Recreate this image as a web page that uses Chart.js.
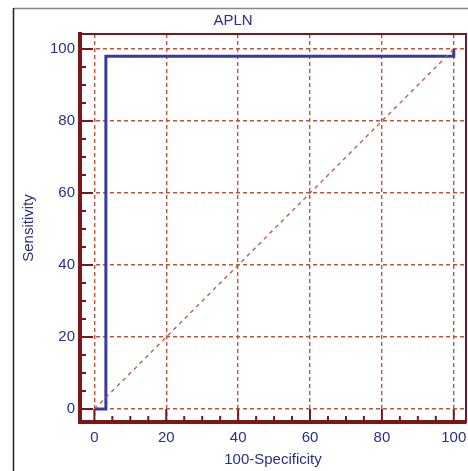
<!DOCTYPE html>
<html>
<head>
<meta charset="utf-8">
<script src="https://cdn.jsdelivr.net/npm/chart.js@4/dist/chart.umd.min.js"></script>
<style>
  body { margin: 0; background: #fff; }
  #wrap { width: 468px; height: 471px; }
</style>
</head>
<body>
<div id="wrap"><canvas id="roc"></canvas></div>
<script>
// ROC curve
const specX = [0, 3.2, 3.2, 100, 100];
const sensY = [0, 0, 98, 98, 100];
const refX = [0, 100];
const refY = [0, 100];
const xTicks = [0, 20, 40, 60, 80, 100];
const yTicks = [0, 20, 40, 60, 80, 100];
const minorStep = 5;

const axisColor = "#7b1717";
const gridColor = "#b9553f";
const textColor = "#2b2e8a";
const lineColor = "#3a3a9e";

// inward ticks + top/right border of the plot box
const marcoPlugin = {
  id: "marco",
  beforeDraw(chart) {
    const ctx = chart.ctx;
    ctx.save();
    ctx.fillStyle = "#fff";
    ctx.fillRect(0, 0, chart.width, chart.height);
    // outer figure frame
    ctx.strokeStyle = "#888";
    ctx.lineWidth = 1.5;
    ctx.beginPath();
    ctx.moveTo(13, 8.5);
    ctx.lineTo(chart.width, 8.5);
    ctx.stroke();
    ctx.strokeStyle = "#222";
    ctx.beginPath();
    ctx.moveTo(13.5, 8);
    ctx.lineTo(13.5, chart.height);
    ctx.stroke();
    ctx.restore();
  },
  afterDraw(chart) {
    const ctx = chart.ctx;
    const a = chart.chartArea;
    const xs = chart.scales.x, ys = chart.scales.y;
    ctx.save();
    ctx.strokeStyle = axisColor;
    ctx.lineWidth = 2;
    ctx.strokeRect(a.left, a.top, a.right - a.left, a.bottom - a.top);
    ctx.beginPath();
    for (let v = 0; v <= 100; v += minorStep) {
      const len = v % 20 === 0 ? 13 : 6;
      const px = xs.getPixelForValue(v);
      ctx.moveTo(px, a.bottom);
      ctx.lineTo(px, a.bottom - len);
      const py = ys.getPixelForValue(v);
      ctx.moveTo(a.left, py);
      ctx.lineTo(a.left + len, py);
    }
    ctx.stroke();
    ctx.restore();
  }
};

const pts = (xs, ys) => xs.map((x, i) => ({ x: x, y: ys[i] }));

new Chart(document.getElementById("roc"), {
  type: "scatter",
  data: {
    datasets: [
      {
        label: "Referencia",
        data: pts(refX, refY),
        showLine: true,
        borderColor: gridColor,
        borderWidth: 1.3,
        borderDash: [4, 4],
        pointRadius: 0
      },
      {
        label: "APLN",
        data: pts(specX, sensY),
        showLine: true,
        borderColor: lineColor,
        borderWidth: 3,
        pointRadius: 0,
        borderJoinStyle: "miter"
      }
    ]
  },
  options: {
    responsive: true,
    maintainAspectRatio: false,
    animation: false,
    layout: { padding: { left: 0, right: 2, top: 0, bottom: 0 } },
    plugins: {
      legend: { display: false },
      tooltip: { enabled: false },
      title: {
        display: true,
        text: "APLN",
        color: textColor,
        font: { family: "Liberation Sans", size: 15, weight: "normal" },
        padding: { top: 12, bottom: 4 }
      }
    },
    scales: {
      x: {
        type: "linear",
        min: -4,
        max: 103.4,
        afterBuildTicks: s => { s.ticks = xTicks.map(v => ({ value: v })); },
        afterFit: s => { s.height = 49; s.paddingRight = 0; s.paddingLeft = 0; },
        ticks: {
          color: textColor,
          font: { family: "Liberation Sans", size: 15 },
          padding: 7,
          maxRotation: 0
        },
        grid: {
          color: gridColor,
          lineWidth: 1.4,
          drawTicks: false
        },
        border: { color: axisColor, width: 4, dash: [4, 3] },
        title: {
          display: true,
          text: "100-Specificity",
          color: textColor,
          font: { family: "Liberation Sans", size: 15 },
          padding: { top: 2, bottom: 2 }
        }
      },
      y: {
        type: "linear",
        min: -3.6,
        max: 104.2,
        afterBuildTicks: s => { s.ticks = yTicks.map(v => ({ value: v })); },
        afterFit: s => { s.width = 80; s.paddingTop = 0; s.paddingBottom = 0; },
        ticks: {
          color: textColor,
          font: { family: "Liberation Sans", size: 15 },
          padding: 5
        },
        grid: {
          color: gridColor,
          lineWidth: 1.4,
          drawTicks: false
        },
        border: { color: axisColor, width: 4, dash: [4, 3] },
        title: {
          display: true,
          text: "Sensitivity",
          color: textColor,
          font: { family: "Liberation Sans", size: 15 },
          padding: { top: 20, bottom: 0 }
        }
      }
    }
  },
  plugins: [marcoPlugin]
});
</script>
</body>
</html>
